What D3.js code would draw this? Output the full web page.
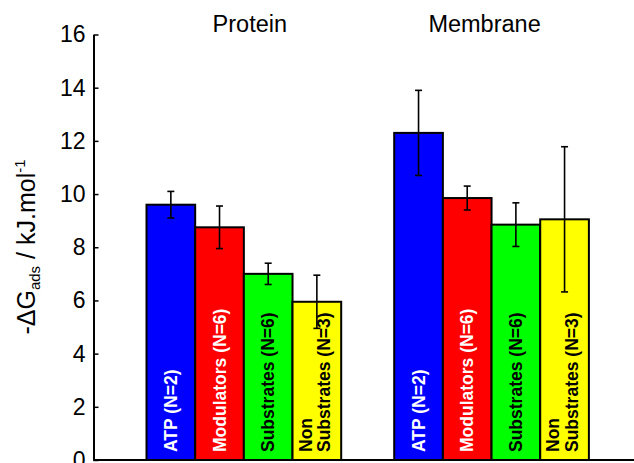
<!DOCTYPE html>
<html>
<head>
<meta charset="utf-8">
<script src="https://cdn.jsdelivr.net/npm/d3@7"></script>
<style>
  html, body { margin: 0; padding: 0; background: #fff; }
  svg { display: block; font-family: "Liberation Sans", Arial, sans-serif; }
</style>
</head>
<body>
<svg id="chart" width="634" height="463"></svg>
<script>
// Adsorption free energy by binding site and ligand class
const groups = ["Protein", "Membrane"];
const categories = ["ATP", "Modulators", "Substrates", "Non Substrates"];
const categoryLabels = [["ATP (N=2)"], ["Modulators (N=6)"], ["Substrates (N=6)"], ["Non", "Substrates (N=3)"]];
const categoryColors = ["#0000ff", "#ff0000", "#00ff00", "#ffff00"];
const labelColors = ["#ffffff", "#ffffff", "#000000", "#000000"];
const proteinValues = [9.6, 8.75, 7.0, 5.95];
const proteinErrors = [0.5, 0.8, 0.4, 1.0];
const membraneValues = [12.3, 9.85, 8.85, 9.05];
const membraneErrors = [1.6, 0.45, 0.82, 2.73];
const yTicks = [0, 2, 4, 6, 8, 10, 12, 14, 16];

const seriesValues = [proteinValues, membraneValues];
const seriesErrors = [proteinErrors, membraneErrors];

const svg = d3.select("#chart");
const axisX = 93.5, axisBottom = 460, axisTop = 34.5;

const y = d3.scaleLinear().domain([0, 16]).range([axisBottom, axisTop]);

const x0 = d3.scaleBand()
  .domain(groups)
  .range([axisX, axisX + 548.4])
  .paddingInner(0.214)
  .paddingOuter(0.214);

const x1 = d3.scaleBand()
  .domain(categories)
  .range([0, x0.bandwidth()]);

// bars
groups.forEach((g, gi) => {
  const gEl = svg.append("g").attr("transform", `translate(${x0(g)},0)`);
  const rows = categories.map((c, ci) => ({
    c, ci, v: seriesValues[gi][ci], e: seriesErrors[gi][ci]
  }));

  gEl.selectAll("rect").data(rows).join("rect")
    .attr("x", d => x1(d.c))
    .attr("y", d => y(d.v))
    .attr("width", x1.bandwidth())
    .attr("height", d => y(0) - y(d.v))
    .attr("fill", d => categoryColors[d.ci])
    .attr("stroke", "#000")
    .attr("stroke-width", 2);

  // rotated labels inside bars
  rows.forEach(d => {
    const cx = x1(d.c) + x1.bandwidth() / 2;
    const lines = categoryLabels[d.ci];
    const t = gEl.append("text")
      .attr("transform", `translate(${cx},452) rotate(-90)`)
      .attr("text-anchor", "start")
      .attr("font-size", 17.5)
      .attr("font-weight", "bold")
      .attr("fill", labelColors[d.ci]);
    lines.forEach((ln, li) => {
      const off = (li - (lines.length - 1) / 2) * 18.5 - (lines.length > 1 ? 2 : 0);
      t.append("tspan")
        .attr("x", 0)
        .attr("y", off)
        .attr("dominant-baseline", "central")
        .text(ln);
    });
  });

  // error bars
  const eb = gEl.selectAll("g.err").data(rows).join("g").attr("class", "err")
    .attr("stroke", "#000").attr("stroke-width", 1.6);
  eb.append("line")
    .attr("x1", d => x1(d.c) + x1.bandwidth() / 2)
    .attr("x2", d => x1(d.c) + x1.bandwidth() / 2)
    .attr("y1", d => y(d.v + d.e))
    .attr("y2", d => y(d.v - d.e));
  [1, -1].forEach(s => {
    eb.append("line")
      .attr("x1", d => x1(d.c) + x1.bandwidth() / 2 - 3.5)
      .attr("x2", d => x1(d.c) + x1.bandwidth() / 2 + 3.5)
      .attr("y1", d => y(d.v + s * d.e))
      .attr("y2", d => y(d.v + s * d.e));
  });
});

// group titles
const titleShift = [6, -7];
svg.selectAll("text.group").data(groups).join("text")
  .attr("class", "group")
  .attr("x", (g, i) => x0(g) + x0.bandwidth() / 2 + titleShift[i])
  .attr("y", 31.5)
  .attr("text-anchor", "middle")
  .attr("font-size", 23.5)
  .text(g => g);

// y axis with inward ticks
const yAxis = d3.axisRight(y).tickValues(yTicks).tickSize(5).tickSizeOuter(0).tickFormat(d3.format("d"));
const ya = svg.append("g").attr("transform", `translate(${axisX},0)`).call(yAxis);
ya.select(".domain").attr("stroke-width", 2);
ya.selectAll(".tick line").attr("stroke-width", 1.5);
ya.selectAll(".tick text")
  .attr("x", -8)
  .attr("text-anchor", "end")
  .attr("font-size", 23)
  .attr("font-family", "Liberation Sans, Arial, sans-serif")
  .attr("fill", "#000");

// baseline
svg.append("line")
  .attr("x1", axisX).attr("x2", 634)
  .attr("y1", y(0)).attr("y2", y(0))
  .attr("stroke", "#000").attr("stroke-width", 2);

// y-axis title
const yt = svg.append("text")
  .attr("transform", `translate(35,247) rotate(-90)`)
  .attr("text-anchor", "middle")
  .attr("font-size", 25);
yt.append("tspan").text("-ΔG");
yt.append("tspan").attr("font-size", 15).attr("dy", 5).text("ads");
yt.append("tspan").attr("dy", -5).text(" / kJ.mol");
yt.append("tspan").attr("font-size", 15).attr("dy", -10).text("-1");
</script>
</body>
</html>
